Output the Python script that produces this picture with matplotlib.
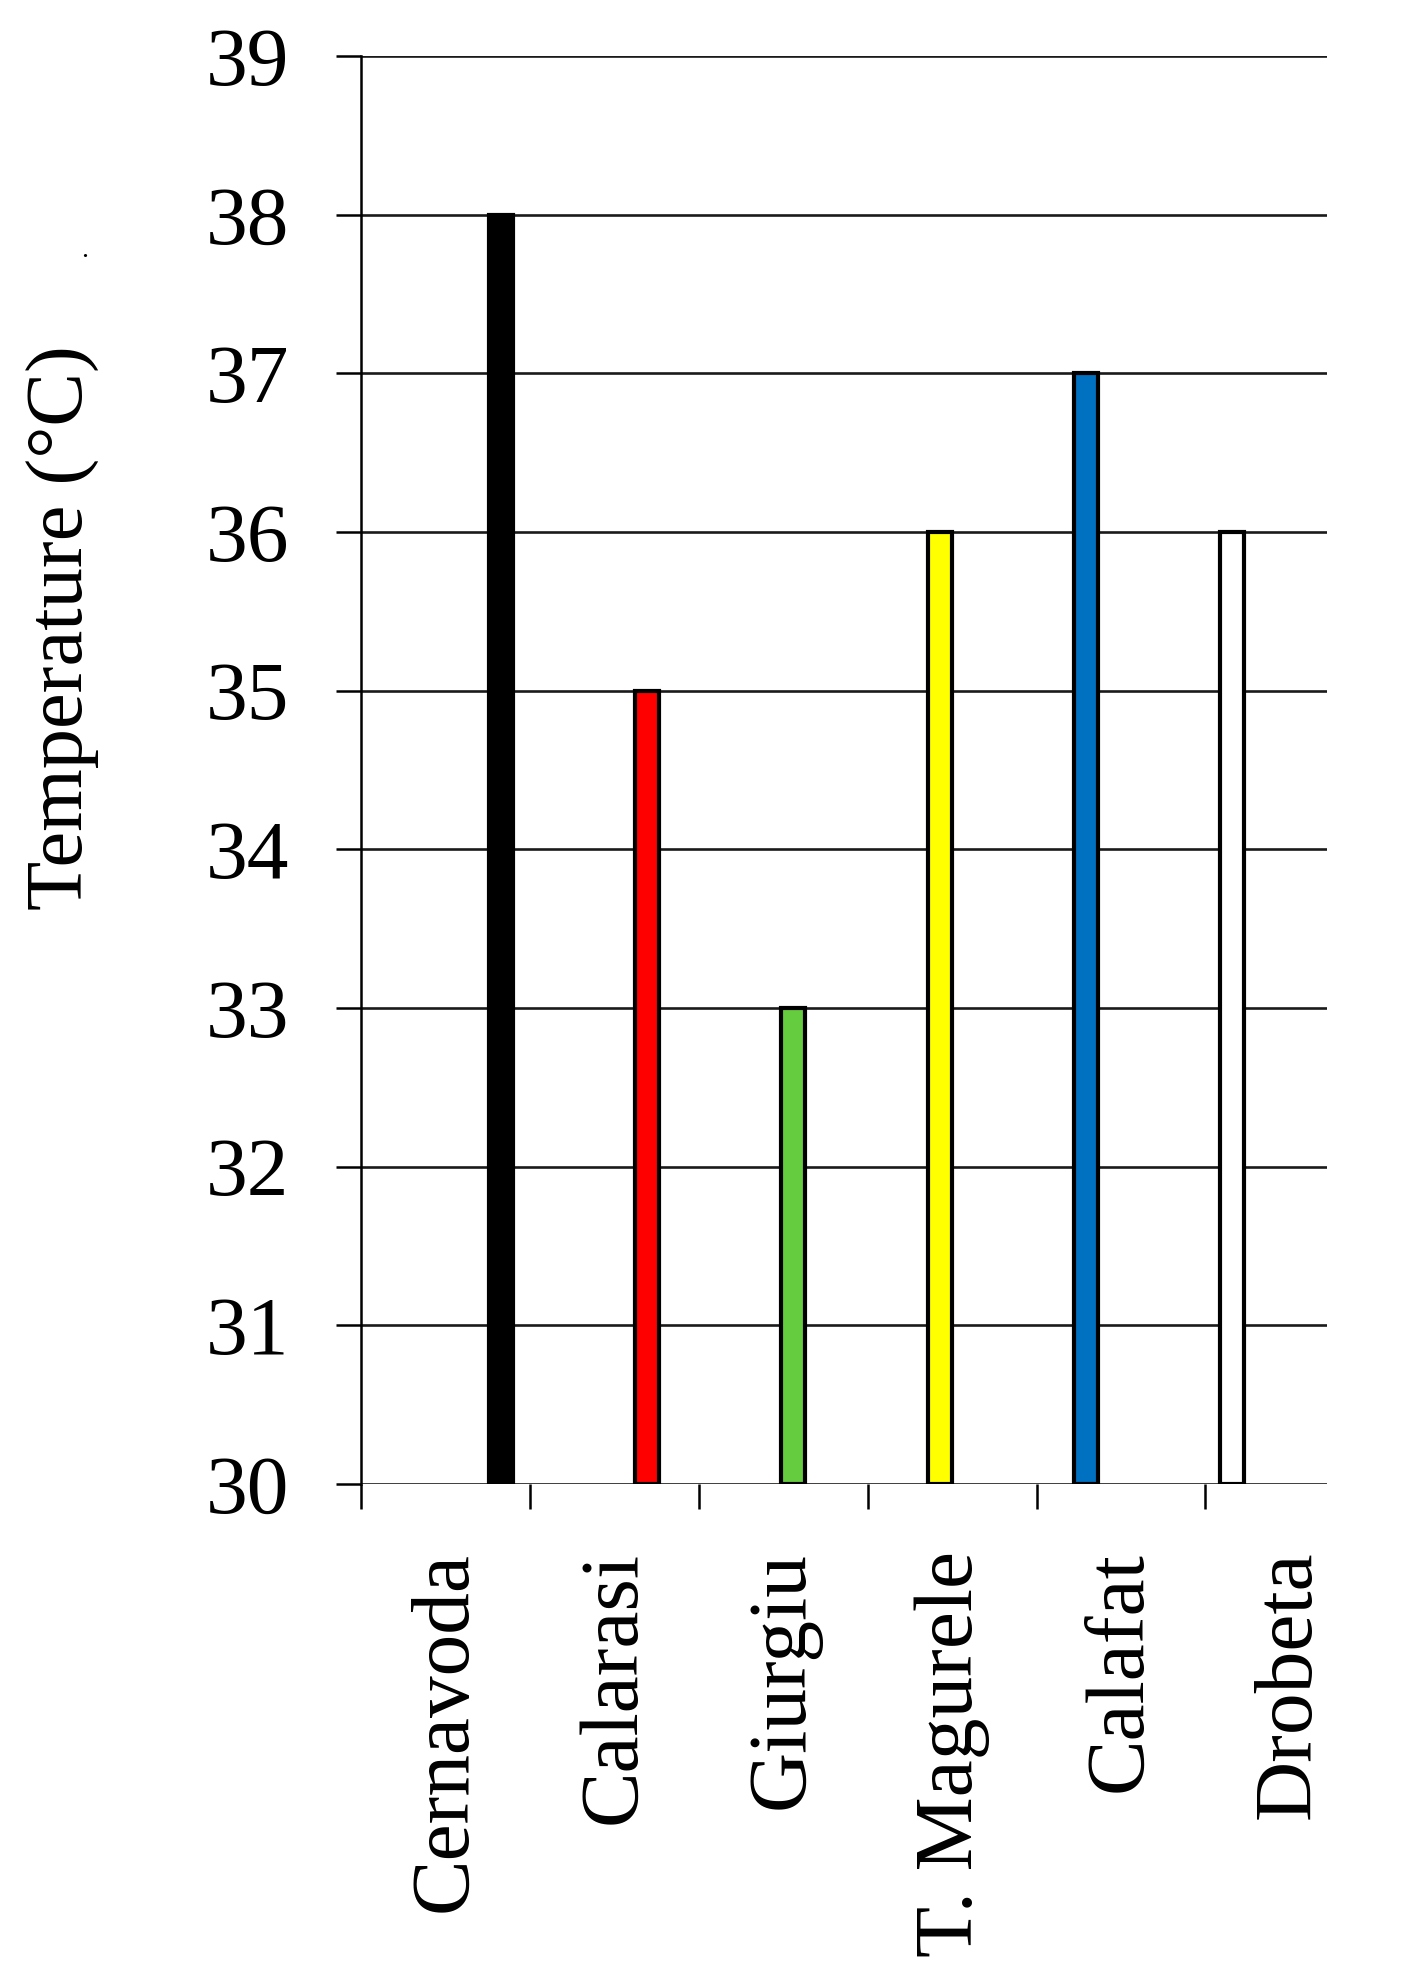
import matplotlib
matplotlib.use("Agg")
import matplotlib.pyplot as plt
import numpy as np

stations = ["Cernavoda", "Calarasi", "Giurgiu", "T. Magurele", "Calafat", "Drobeta"]
temps = [38, 35, 33, 36, 37, 36]
colors = ["#000000", "#FF0000", "#66CC3F", "#FFFF00", "#0070C0", "#FFFFFF"]
yticks = [30, 31, 32, 33, 34, 35, 36, 37, 38, 39]

plt.rcParams['font.family'] = ['Liberation Serif', 'DejaVu Serif']

fig = plt.figure(figsize=(14.18, 19.85), dpi=100)
pos = [0.2546, 0.2524, 0.6812, 0.7194]
ax = fig.add_axes(pos)

x = np.arange(len(stations))
ax.bar(x, [t - 30 for t in temps], bottom=30, width=0.165, color=colors,
       edgecolor="black", linewidth=3.0, zorder=3)
ax.set_xlim(-0.958, 5.65)
ax.set_ylim(30, 39)
ax.set_yticks(yticks)
ax.set_yticklabels([str(v) for v in yticks], fontsize=60)
ax.tick_params(axis='y', length=18, width=1.8, pad=34, colors='black')
ax.grid(axis='y', color='#1a1a1a', linewidth=1.9, zorder=1)
ax.set_xticks([])
for s in ['top', 'right', 'bottom']:
    ax.spines[s].set_visible(False)
ax.spines['left'].set_linewidth(1.8)
ax.set_ylabel("Temperature (°C)", fontsize=58)
ax.yaxis.set_label_coords(-0.27, 0.60)

# category axis (label slots)
ax2 = fig.add_axes(pos, frameon=False)
ax2.patch.set_visible(False)
ax2.set_xlim(0, 5.72)
ax2.set_ylim(0, 1)
ax2.set_yticks([])
ax2.set_xticks(np.arange(len(stations)), minor=True)
ax2.set_xticks(np.arange(len(stations)) + 0.5)
ax2.set_xticklabels(stations, rotation=90, fontsize=60, va='top', ha='center')
ax2.tick_params(axis='x', which='minor', length=18, width=1.8, direction='out')
ax2.tick_params(axis='x', which='major', length=18, width=0, pad=30)

fig.text(0.06, 0.874, ".", fontsize=20, ha='center', va='center')

fig.savefig("out.png", dpi=100)
